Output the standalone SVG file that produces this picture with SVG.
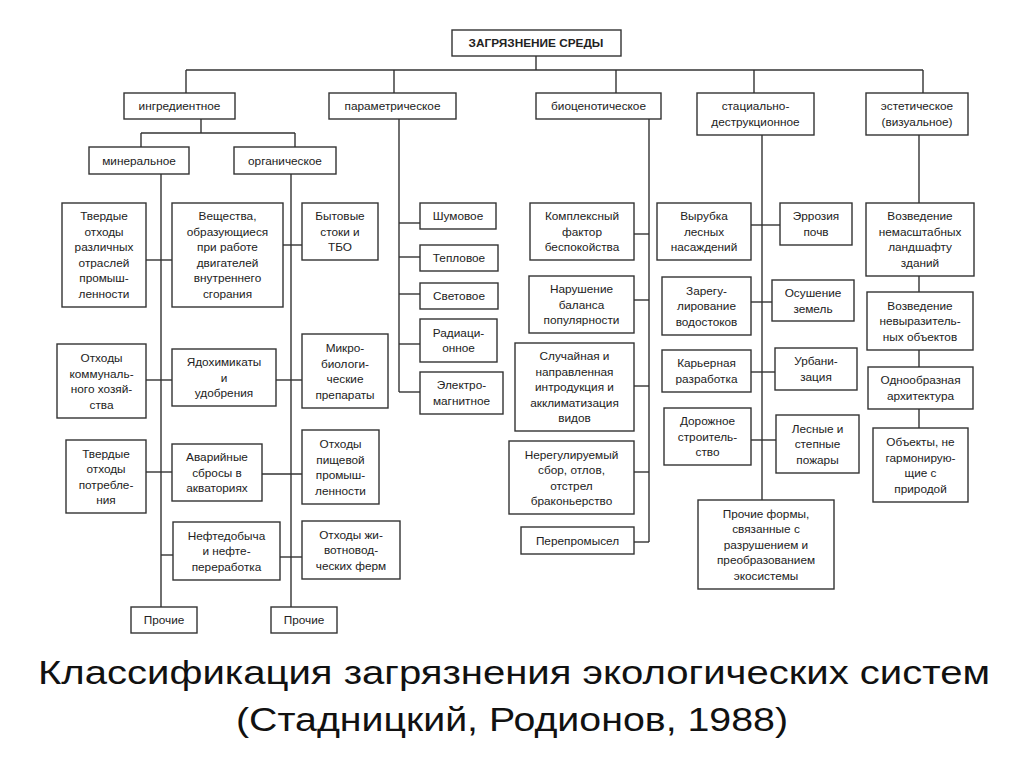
<svg xmlns="http://www.w3.org/2000/svg" width="1024" height="767" viewBox="0 0 1024 767">
<style>
rect{fill:#fff;stroke:#333;stroke-width:1.4}
text{font-family:"Liberation Sans",Arial,sans-serif;font-size:11.8px;fill:#222;text-anchor:middle}
.c line{stroke:#333;stroke-width:1.4}
.cap{font-size:34px;fill:#111}
</style>
<rect x="0" y="0" width="1024" height="767" style="stroke:none"/>
<g class="c" id="connectors">
<line x1="536" y1="56" x2="536" y2="70"/><line x1="186" y1="70" x2="923" y2="70"/>
<line x1="186" y1="70" x2="186" y2="93"/><line x1="394" y1="70" x2="394" y2="93"/><line x1="616" y1="70" x2="616" y2="93"/><line x1="754" y1="70" x2="754" y2="93"/><line x1="923" y1="70" x2="923" y2="93"/>
<line x1="201" y1="119" x2="201" y2="133"/><line x1="141" y1="133" x2="295" y2="133"/><line x1="141" y1="133" x2="141" y2="147"/><line x1="295" y1="133" x2="295" y2="147"/>
<line x1="161" y1="174" x2="161" y2="607"/><line x1="291" y1="174" x2="291" y2="607"/>
<line x1="146" y1="260" x2="172" y2="260"/><line x1="283" y1="245" x2="302" y2="245"/>
<line x1="146" y1="380" x2="172" y2="380"/><line x1="276" y1="380" x2="302" y2="380"/>
<line x1="146" y1="472" x2="172" y2="472"/><line x1="262" y1="474" x2="302" y2="474"/>
<line x1="161" y1="555" x2="173" y2="555"/><line x1="280" y1="557" x2="302" y2="557"/>
<line x1="399" y1="119" x2="399" y2="392"/>
<line x1="399" y1="223" x2="420" y2="223"/><line x1="399" y1="257" x2="420" y2="257"/><line x1="399" y1="294" x2="420" y2="294"/><line x1="399" y1="344" x2="420" y2="344"/><line x1="399" y1="392" x2="420" y2="392"/>
<line x1="649" y1="119" x2="649" y2="542"/>
<line x1="634" y1="234" x2="649" y2="234"/><line x1="634" y1="300" x2="649" y2="300"/><line x1="634" y1="386" x2="649" y2="386"/><line x1="634" y1="472" x2="649" y2="472"/><line x1="634" y1="542" x2="649" y2="542"/>
<line x1="762" y1="135" x2="762" y2="500"/>
<line x1="751" y1="225" x2="780" y2="225"/><line x1="751" y1="302" x2="772" y2="302"/><line x1="751" y1="372" x2="775" y2="372"/><line x1="751" y1="440" x2="776" y2="440"/>
<line x1="919" y1="135" x2="919" y2="203"/><line x1="919" y1="276" x2="919" y2="292"/><line x1="919" y1="350" x2="919" y2="367"/><line x1="919" y1="409" x2="919" y2="428"/>
</g>
<g id="root"><rect x="452" y="30" width="169" height="26"/><text x="536" y="47" style="font-weight:bold">ЗАГРЯЗНЕНИЕ СРЕДЫ</text></g>
<g id="ingr"><rect x="124" y="93" width="111" height="26"/><text x="179.5" y="110">ингредиентное</text></g>
<g id="param"><rect x="329" y="93" width="127" height="26"/><text x="392.5" y="110">параметрическое</text></g>
<g id="bio"><rect x="536" y="93" width="125" height="26"/><text x="598.5" y="110">биоценотическое</text></g>
<g id="stac"><rect x="697" y="93" width="117" height="42"/><text x="755.5" y="110">стациально-</text><text x="755.5" y="125.5">деструкционное</text></g>
<g id="est"><rect x="866" y="93" width="102" height="42"/><text x="917" y="110">эстетическое</text><text x="917" y="125.5">(визуальное)</text></g>
<g id="min"><rect x="89" y="147" width="100" height="27"/><text x="139" y="164.5">минеральное</text></g>
<g id="org"><rect x="234" y="147" width="102" height="27"/><text x="285" y="164.5">органическое</text></g>
<g id="tverd1"><rect x="62" y="203" width="84" height="104"/><text x="104" y="220">Твердые</text><text x="104" y="235.5">отходы</text><text x="104" y="251">различных</text><text x="104" y="266.5">отраслей</text><text x="104" y="282">промыш-</text><text x="104" y="297.5">ленности</text></g>
<g id="vesh"><rect x="172" y="203" width="111" height="104"/><text x="227.5" y="220">Вещества,</text><text x="227.5" y="235.5">образующиеся</text><text x="227.5" y="251">при работе</text><text x="227.5" y="266.5">двигателей</text><text x="227.5" y="282">внутреннего</text><text x="227.5" y="297.5">сгорания</text></g>
<g id="byt"><rect x="302" y="203" width="76" height="57"/><text x="340" y="220">Бытовые</text><text x="340" y="235.5">стоки и</text><text x="340" y="251">ТБО</text></g>
<g id="shum"><rect x="420" y="203" width="76" height="26"/><text x="458" y="220">Шумовое</text></g>
<g id="tepl"><rect x="420" y="245" width="78" height="26"/><text x="459" y="262">Тепловое</text></g>
<g id="svet"><rect x="420" y="283" width="78" height="26"/><text x="459" y="300">Световое</text></g>
<g id="rad"><rect x="420" y="319" width="77" height="43"/><text x="458.5" y="336.5">Радиаци-</text><text x="458.5" y="352">онное</text></g>
<g id="elec"><rect x="420" y="372" width="83" height="42"/><text x="461.5" y="389">Электро-</text><text x="461.5" y="404.5">магнитное</text></g>
<g id="komm"><rect x="57" y="344" width="89" height="74"/><text x="101.5" y="362">Отходы</text><text x="101.5" y="377.5">коммуналь-</text><text x="101.5" y="393">ного хозяй-</text><text x="101.5" y="408.5">ства</text></g>
<g id="yad"><rect x="172" y="349" width="104" height="57"/><text x="224" y="366">Ядохимикаты</text><text x="224" y="381.5">и</text><text x="224" y="397">удобрения</text></g>
<g id="micro"><rect x="302" y="334" width="86" height="74"/><text x="345" y="352">Микро-</text><text x="345" y="367.5">биологи-</text><text x="345" y="383">ческие</text><text x="345" y="398.5">препараты</text></g>
<g id="tverd2"><rect x="66" y="440" width="80" height="73"/><text x="106" y="457.5">Твердые</text><text x="106" y="473">отходы</text><text x="106" y="488.5">потребле-</text><text x="106" y="504">ния</text></g>
<g id="avar"><rect x="172" y="444" width="90" height="57"/><text x="217" y="461">Аварийные</text><text x="217" y="476.5">сбросы в</text><text x="217" y="492">акваториях</text></g>
<g id="pish"><rect x="302" y="430" width="77" height="74"/><text x="340.5" y="448">Отходы</text><text x="340.5" y="463.5">пищевой</text><text x="340.5" y="479">промыш-</text><text x="340.5" y="494.5">ленности</text></g>
<g id="neft"><rect x="173" y="522" width="107" height="58"/><text x="226.5" y="539.5">Нефтедобыча</text><text x="226.5" y="555">и нефте-</text><text x="226.5" y="570.5">переработка</text></g>
<g id="zhiv"><rect x="302" y="521" width="98" height="58"/><text x="351" y="538.5">Отходы жи-</text><text x="351" y="554">вотновод-</text><text x="351" y="569.5">ческих ферм</text></g>
<g id="proch1"><rect x="131" y="607" width="66" height="26"/><text x="164" y="624">Прочие</text></g>
<g id="proch2"><rect x="271" y="607" width="66" height="26"/><text x="304" y="624">Прочие</text></g>
<g id="kompl"><rect x="530" y="203" width="104" height="57"/><text x="582" y="220">Комплексный</text><text x="582" y="235.5">фактор</text><text x="582" y="251">беспокойства</text></g>
<g id="narush"><rect x="529" y="276" width="105" height="57"/><text x="581.5" y="293">Нарушение</text><text x="581.5" y="308.5">баланса</text><text x="581.5" y="324">популярности</text></g>
<g id="sluch"><rect x="515" y="343" width="119" height="88"/><text x="574.5" y="360">Случайная и</text><text x="574.5" y="375.5">направленная</text><text x="574.5" y="391">интродукция и</text><text x="574.5" y="406.5">акклиматизация</text><text x="574.5" y="422">видов</text></g>
<g id="nereg"><rect x="509" y="441" width="125" height="73"/><text x="571.5" y="458.5">Нерегулируемый</text><text x="571.5" y="474">сбор, отлов,</text><text x="571.5" y="489.5">отстрел</text><text x="571.5" y="505">браконьерство</text></g>
<g id="perep"><rect x="521" y="527" width="113" height="27"/><text x="577.5" y="544.5">Перепромысел</text></g>
<g id="vyrub"><rect x="657" y="203" width="94" height="57"/><text x="704" y="220">Вырубка</text><text x="704" y="235.5">лесных</text><text x="704" y="251">насаждений</text></g>
<g id="erroz"><rect x="780" y="203" width="72" height="42"/><text x="816" y="220">Эррозия</text><text x="816" y="235.5">почв</text></g>
<g id="zareg"><rect x="662" y="277" width="89" height="58"/><text x="706.5" y="294.5">Зарегу-</text><text x="706.5" y="310">лирование</text><text x="706.5" y="325.5">водостоков</text></g>
<g id="osush"><rect x="772" y="280" width="82" height="41"/><text x="813" y="297">Осушение</text><text x="813" y="312.5">земель</text></g>
<g id="karer"><rect x="662" y="350" width="89" height="42"/><text x="706.5" y="367">Карьерная</text><text x="706.5" y="382.5">разработка</text></g>
<g id="urban"><rect x="775" y="348" width="82" height="42"/><text x="816" y="365">Урбани-</text><text x="816" y="380.5">зация</text></g>
<g id="dorozh"><rect x="664" y="408" width="87" height="57"/><text x="707.5" y="425">Дорожное</text><text x="707.5" y="440.5">строитель-</text><text x="707.5" y="456">ство</text></g>
<g id="lesn"><rect x="776" y="415" width="83" height="58"/><text x="817.5" y="432.5">Лесные и</text><text x="817.5" y="448">степные</text><text x="817.5" y="463.5">пожары</text></g>
<g id="prochf"><rect x="698" y="500" width="136" height="89"/><text x="766" y="517.5">Прочие формы,</text><text x="766" y="533">связанные с</text><text x="766" y="548.5">разрушением и</text><text x="766" y="564">преобразованием</text><text x="766" y="579.5">экосистемы</text></g>
<g id="vozv1"><rect x="866" y="203" width="108" height="73"/><text x="920" y="220">Возведение</text><text x="920" y="235.5">немасштабных</text><text x="920" y="251">ландшафту</text><text x="920" y="266.5">зданий</text></g>
<g id="vozv2"><rect x="867" y="292" width="106" height="58"/><text x="920" y="309.5">Возведение</text><text x="920" y="325">невыразитель-</text><text x="920" y="340.5">ных объектов</text></g>
<g id="odno"><rect x="868" y="367" width="105" height="42"/><text x="920.5" y="384">Однообразная</text><text x="920.5" y="399.5">архитектура</text></g>
<g id="obj"><rect x="873" y="428" width="95" height="74"/><text x="920.5" y="446">Объекты, не</text><text x="920.5" y="461.5">гармонирую-</text><text x="920.5" y="477">щие с</text><text x="920.5" y="492.5">природой</text></g>
<text class="cap" x="514" y="684" textLength="952" lengthAdjust="spacingAndGlyphs">Классификация загрязнения экологических систем</text>
<text class="cap" x="512" y="731" textLength="552" lengthAdjust="spacingAndGlyphs">(Стадницкий, Родионов, 1988)</text>
</svg>
